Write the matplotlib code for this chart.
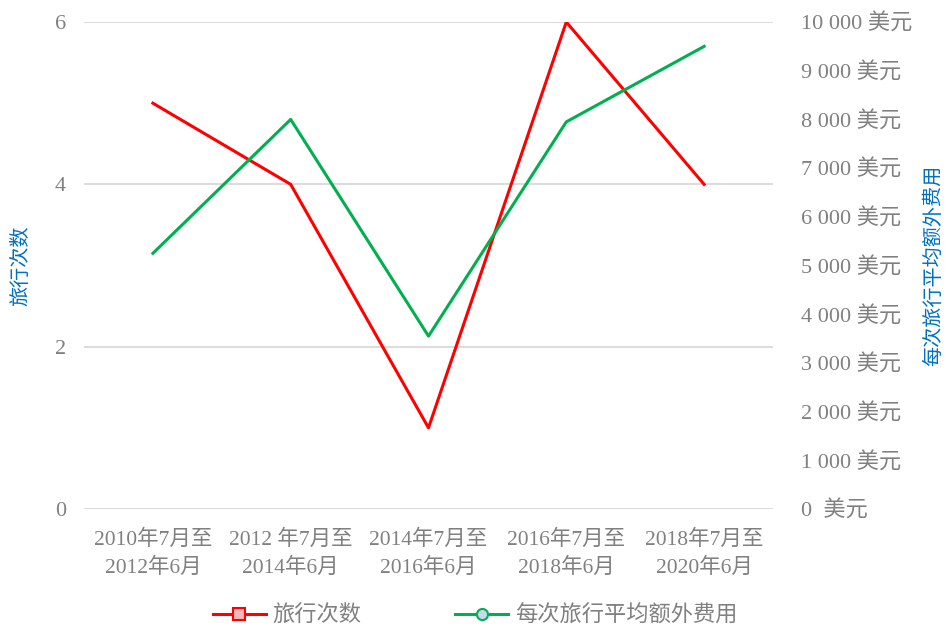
import matplotlib
matplotlib.use("Agg")
import matplotlib.pyplot as plt
from matplotlib.lines import Line2D
from matplotlib.ticker import FixedLocator, FuncFormatter

plt.rcParams['font.family'] = ['Liberation Serif', 'Noto Sans CJK SC', 'DejaVu Sans']

# ── data ──────────────────────────────────────────────────────────────────────
periods = ["2010年7月至\n2012年6月", "2012 年7月至\n2014年6月", "2014年7月至\n2016年6月",
           "2016年7月至\n2018年6月", "2018年7月至\n2020年6月"]
trips = [5, 4, 1, 6, 4]
avg_cost = [5250, 8000, 3550, 7950, 9500]

RED = "#FF0000"
GREEN = "#00B050"
GREY = "#808080"
BLUE = "#0070C0"

fig = plt.figure(figsize=(9.5, 6.33), dpi=100)
ax = fig.add_axes([0.0884, 0.1959, 0.7253, 0.7693])
ax2 = ax.twinx()

x = list(range(len(periods)))
ax.plot(x, trips, color=RED, lw=2.2, zorder=3)
ax2.plot(x, avg_cost, color=GREEN, lw=2.2, zorder=3)

ax.set_xlim(-0.5, len(periods) - 0.5)
ax.set_ylim(0, 6)
ax2.set_ylim(0, 10000)
ax.yaxis.set_major_locator(FixedLocator([0, 2, 4, 6]))
ax2.yaxis.set_major_locator(FixedLocator(range(0, 10001, 1000)))
ax2.yaxis.set_major_formatter(FuncFormatter(
    lambda v, p: "0  美元" if v == 0 else f"{int(v):,}".replace(",", " ") + " 美元"))

ax.yaxis.grid(True, color="#D9D9D9", lw=1.3)
ax.set_axisbelow(True)
for a in (ax, ax2):
    for s in a.spines.values():
        s.set_visible(False)
    a.tick_params(length=0, colors=GREY, labelsize=16)
ax.tick_params(axis="y", pad=13)
ax2.tick_params(axis="y", pad=20)
ax.tick_params(axis="x", pad=15, labelsize=15.5)

ax.set_xticks(x)
ax.set_xticklabels(periods, linespacing=1.45)

ax.set_ylabel("旅行次数", color=BLUE, fontsize=14.5, labelpad=17)
ax2.set_ylabel("每次旅行平均额外费用", color=BLUE, fontsize=14.5, labelpad=9)

handles = [
    Line2D([], [], color=RED, lw=2.2, marker="s", markersize=8,
           markerfacecolor="#F4B8B8", markeredgecolor=RED, markeredgewidth=1.5),
    Line2D([], [], color=GREEN, lw=2.2, marker="o", markersize=8,
           markerfacecolor="#C9D7EE", markeredgecolor=GREEN, markeredgewidth=1.5),
]
leg = fig.legend(handles, ["旅行次数", "每次旅行平均额外费用"], loc="center",
                 bbox_to_anchor=(0.5, 0.026), ncol=2, frameon=False,
                 fontsize=16, handlelength=2.4, columnspacing=4.2, handletextpad=0.3)
for t in leg.get_texts():
    t.set_color(GREY)

fig.savefig("out.png", dpi=100)
